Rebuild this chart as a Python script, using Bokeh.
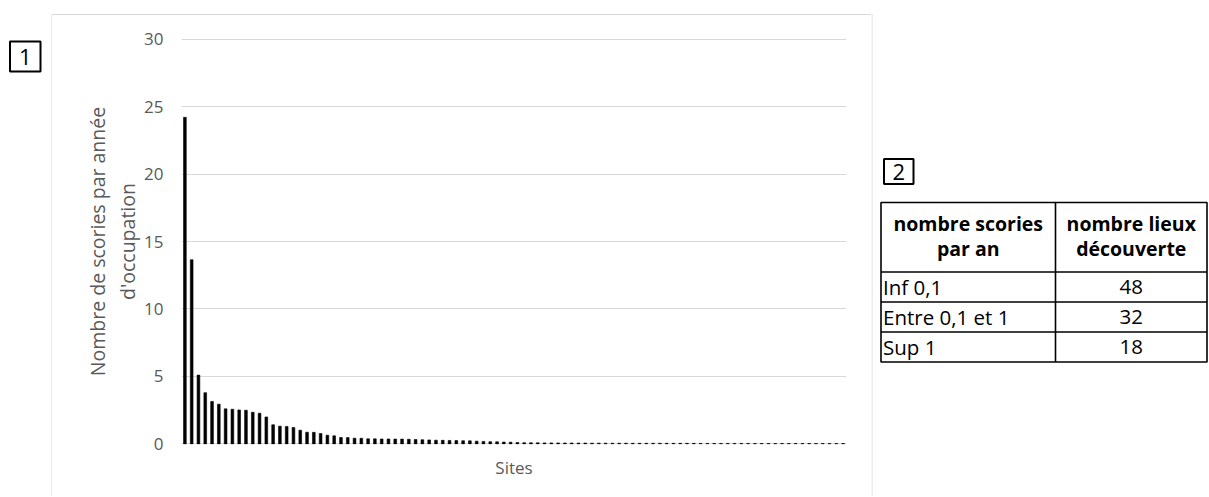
from bokeh.plotting import figure
from bokeh.layouts import row, column
from bokeh.models import Range1d, FixedTicker, Div
from bokeh.core.properties import value
from bokeh.embed import file_html
from bokeh.resources import INLINE

# ---------------- data ----------------
site_values = [
    24.2, 13.65, 5.1, 3.8, 3.15, 2.95, 2.6, 2.57, 2.52, 2.5,
    2.35, 2.28, 2.0, 1.42, 1.32, 1.3, 1.22, 1.02, 0.87, 0.86,
    0.77, 0.65, 0.6, 0.48, 0.47, 0.43, 0.42, 0.38, 0.38, 0.37,
    0.37, 0.36, 0.36, 0.35, 0.33, 0.31, 0.3, 0.28, 0.27, 0.26,
    0.25, 0.24, 0.23, 0.21, 0.19, 0.17, 0.16, 0.14, 0.13, 0.11,
    0.095, 0.09, 0.085, 0.08, 0.08, 0.075, 0.07, 0.07, 0.065, 0.065,
    0.06, 0.06, 0.06, 0.055, 0.055, 0.055, 0.05, 0.05, 0.05, 0.05,
    0.05, 0.045, 0.045, 0.045, 0.045, 0.045, 0.04, 0.04, 0.04, 0.04,
    0.04, 0.04, 0.04, 0.04, 0.035, 0.035, 0.035, 0.035, 0.035, 0.035,
    0.035, 0.035, 0.03, 0.03, 0.03, 0.03, 0.03, 0.03,
]
sites = list(range(1, len(site_values) + 1))
y_ticks = [0, 5, 10, 15, 20, 25, 30]
y_axis_title = "Nombre de scories par année\nd'occupation"
x_axis_title = "Sites"

table_header_col1 = ["nombre scories", "par an"]
table_header_col2 = ["nombre lieux", "découverte"]
table_categories = ["Inf 0,1", "Entre 0,1 et 1", "Sup 1"]
table_counts = [48, 32, 18]
panel_labels = ["1", "2"]

FONT = "Open Sans"
GRAY_TXT = "#595959"
GRID = "#d9d9d9"

TOTAL_H = 496
TOP_H = 15
# ---------------- left strip (panel label 1 + chart border) ----------------
left = figure(width=52, height=TOTAL_H, x_range=Range1d(0, 52), y_range=Range1d(TOTAL_H, 0),
              x_axis_type=None, y_axis_type=None, min_border=0,
              output_backend="svg", toolbar_location=None)
left.outline_line_color = None
left.segment(x0=[51.5], y0=[14.5], x1=[51.5], y1=[TOTAL_H], line_color=GRID, line_width=1)
left.segment(x0=[51], y0=[14.5], x1=[52], y1=[14.5], line_color=GRID, line_width=1)
left.quad(left=[9.5], right=[40], top=[41], bottom=[71], fill_color=None,
          line_color="black", line_width=2)
left.text(x=[24.8], y=[56.5], text=[panel_labels[0]], text_align="center",
          text_baseline="middle", text_font=value(FONT), text_font_size="22px",
          text_color="black")

# ---------------- top border of the chart area ----------------
top = Div(text="", width=819, height=TOP_H,
          styles={"border-bottom": "1px solid " + GRID, "box-sizing": "border-box",
                  "margin": "0", "padding": "0"})

# ---------------- main chart ----------------
p = figure(width=819, height=TOTAL_H - TOP_H, output_backend="svg", toolbar_location=None,
           x_range=Range1d(0.5, len(sites) + 0.5), y_range=Range1d(-0.04, 30.04),
           min_border_left=129, min_border_right=25, min_border_top=23,
           min_border_bottom=52)
p.outline_line_color = None
p.vbar(x=sites, top=site_values, width=0.4, fill_color="black",
       line_color="black", line_width=0.6)

p.yaxis.ticker = FixedTicker(ticks=y_ticks)
p.xaxis.ticker = FixedTicker(ticks=[])
p.xgrid.visible = False
p.ygrid.grid_line_color = GRID
p.ygrid.grid_line_width = 1
for ax in (p.xaxis, p.yaxis):
    ax.axis_line_color = None
    ax.major_tick_line_color = None
    ax.minor_tick_line_color = None
    ax.major_tick_out = 0
    ax.major_tick_in = 0
    ax.major_label_text_font = FONT
    ax.major_label_text_font_size = "17px"
    ax.major_label_text_color = GRAY_TXT
    ax.axis_label_text_font = FONT
    ax.axis_label_text_font_style = "normal"
    ax.axis_label_text_color = GRAY_TXT
p.yaxis.major_label_standoff = 18
p.yaxis.axis_label = y_axis_title
p.yaxis.axis_label_text_font_size = "19.5px"
p.yaxis.axis_label_text_line_height = 1.12
p.yaxis.axis_label_standoff = 0
p.xaxis.axis_label = x_axis_title
p.xaxis.axis_label_text_font_size = "17px"
p.xaxis.axis_label_standoff = 11

# ---------------- right strip (border, panel label 2, table) ----------------
r = figure(width=337, height=TOTAL_H, x_range=Range1d(871, 1208), y_range=Range1d(TOTAL_H, 0),
           x_axis_type=None, y_axis_type=None, min_border=0,
           output_backend="svg", toolbar_location=None)
r.outline_line_color = None
r.segment(x0=[871.5], y0=[14], x1=[871.5], y1=[TOTAL_H], line_color=GRID, line_width=1)
r.segment(x0=[871], y0=[14.5], x1=[872], y1=[14.5], line_color=GRID, line_width=1)
r.quad(left=[883.5], right=[913], top=[158.5], bottom=[183.5], fill_color=None,
       line_color="black", line_width=2)
r.text(x=[898.3], y=[171], text=[panel_labels[1]], text_align="center",
       text_baseline="middle", text_font=value(FONT), text_font_size="22px",
       text_color="black")

t_left, t_mid, t_right = 880.5, 1055, 1206.5
t_top, h_bottom, row_h = 202, 271.5, 30
n_rows = len(table_categories)
t_bottom = h_bottom + n_rows * row_h
r.quad(left=[t_left], right=[t_right], top=[t_top], bottom=[t_bottom], fill_color=None,
       line_color="black", line_width=1.6)
r.segment(x0=[t_mid], y0=[t_top], x1=[t_mid], y1=[t_bottom], line_color="black", line_width=1.6)
row_lines = [h_bottom + i * row_h for i in range(n_rows)]
r.segment(x0=[t_left] * n_rows, y0=row_lines, x1=[t_right] * n_rows, y1=row_lines,
          line_color="black", line_width=1.6)

c1 = (t_left + t_mid) / 2
c2 = (t_mid + t_right) / 2
head_y = [223, 248]
r.text(x=[c1] * 2, y=head_y, text=table_header_col1, text_align="center",
       text_baseline="middle", text_font=value(FONT), text_font_size="19.5px",
       text_font_style="bold", text_color="black")
r.text(x=[c2] * 2, y=head_y, text=table_header_col2, text_align="center",
       text_baseline="middle", text_font=value(FONT), text_font_size="19.5px",
       text_font_style="bold", text_color="black")
row_y = [h_bottom + (i + 0.5) * row_h for i in range(n_rows)]
r.text(x=[t_left + 2] * n_rows, y=row_y, text=table_categories, text_align="left",
       text_baseline="middle", text_font=value(FONT), text_font_size="20.5px",
       text_color="black")
r.text(x=[c2] * n_rows, y=row_y, text=[str(c) for c in table_counts], text_align="center",
       text_baseline="middle", text_font=value(FONT), text_font_size="20.5px",
       text_color="black")

layout = row(left, column(top, p), r)
open("out.html", "w").write(file_html(layout, INLINE))
